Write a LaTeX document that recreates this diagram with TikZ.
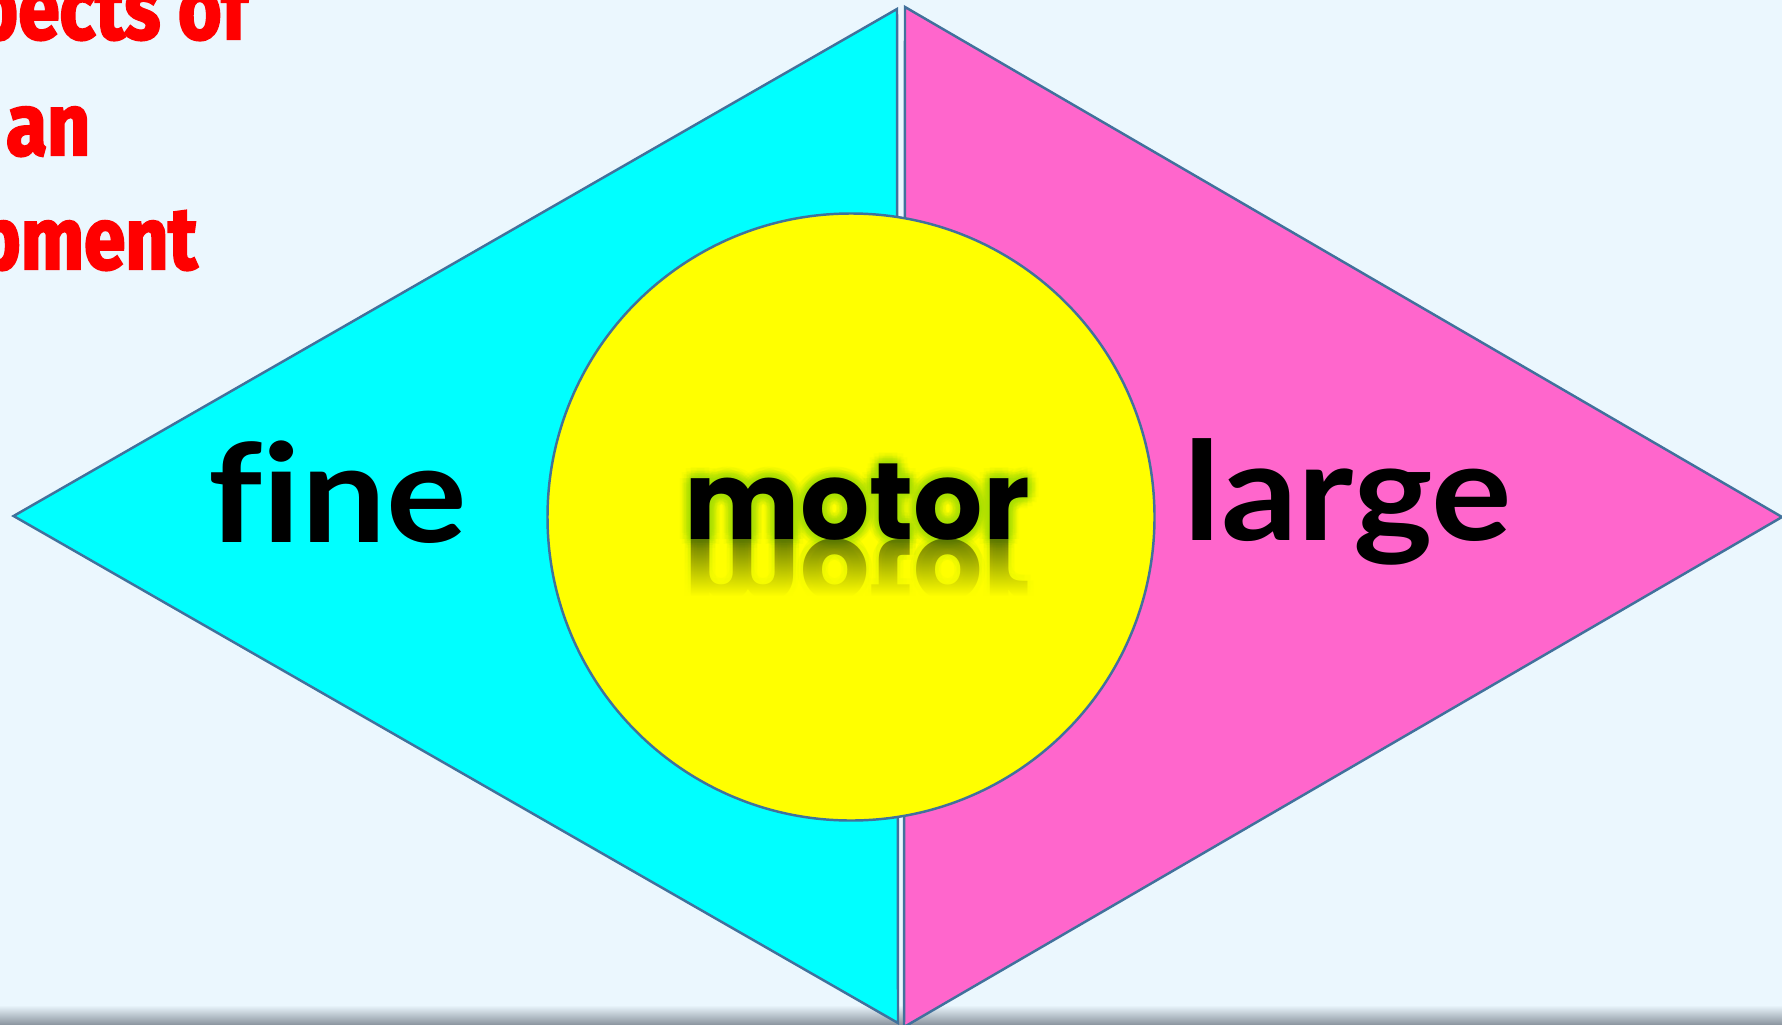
\documentclass[tikz,border=0pt]{standalone}
\usepackage{fontspec}
\usepackage{graphicx}
\usepackage{tikz}
\usetikzlibrary{calc,fadings}
\newfontfamily\sidefont{Lato}[Ligatures=NoCommon,FakeStretch=1.1]
\newfontfamily\motorfont{Poppins}
\newfontfamily\titlefont{Fira Sans}[FakeStretch=0.85,FakeBold=2.5]
\definecolor{mdbg}{HTML}{EBF7FE}
\definecolor{mdcyan}{HTML}{00FFFF}
\definecolor{mdpink}{HTML}{FF66CC}
\definecolor{mdyellow}{HTML}{FFFF00}
\definecolor{mdedge}{HTML}{41719C}
\definecolor{mdglow}{HTML}{A8E000}
\definecolor{mdband}{HTML}{8E98A2}
\definecolor{mdred}{HTML}{FF0000}
\tikzfading[name=fade down, top color=transparent!100, bottom color=transparent!0]

\begin{document}
\begin{tikzpicture}[
  x=0.01cm, y=-0.01cm,
  side/.style={draw=mdedge, line width=0.7pt, line join=miter},
  sideword/.style={inner sep=0pt, anchor=base west, text=black,
                   font=\sidefont\bfseries\fontsize{39}{39}\selectfont},
  motorword/.style={inner sep=0pt, anchor=base west, text=black,
                    font=\motorfont\bfseries\fontsize{31}{31}\selectfont},
  titleline/.style={inner sep=0pt, anchor=base east, text=mdred,
                    font=\titlefont\bfseries\fontsize{25}{25}\selectfont}
]
\useasboundingbox (0,0) rectangle (1782,1024);
\clip (0,0) rectangle (1782,1024);
\fill[mdbg] (0,0) rectangle (1782,1024);
\shade[top color=mdbg, bottom color=mdband] (0,1005) rectangle (1782,1024);

% the two halves and the circle
\filldraw[side, fill=mdcyan] (13.6,516) -- (897,9) -- (898,1023) -- cycle;
\filldraw[side, fill=mdpink] (905,7) -- (1782,517) -- (904,1027) -- cycle;
\filldraw[side, fill=mdyellow] (851,517) circle[radius=303.5];

\node[sideword] (fine) at (208,542) {fine};
\node[sideword] (large) at (1183,540) {large};

% motor with glow and reflection
\coordinate (motorpos) at (684,539);
\foreach \r/\o in {11/0.08, 8/0.12, 5/0.16, 2/0.2}
  \foreach \a in {0,30,...,330}
    \node[motorword, text=mdglow, opacity=\o] (glow\r-\a) at ($(motorpos)+(\a:\r)$) {motor};
\foreach \a in {0,60,...,300}
  \node[motorword, text=mdglow, opacity=0.15] (mglow\a) at ($(motorpos)+(\a:6)$) {\scalebox{1}[-1]{motor}};
\node[motorword, opacity=0.45] (mirror) at (motorpos) {\scalebox{1}[-1]{motor}};
\fill[mdyellow, path fading=fade down] (660,541) rectangle (1045,596);
\fill[mdyellow] (660,596) rectangle (1045,640);
\node[motorword] (motor) at (motorpos) {motor};

\node[titleline] (title1) at (249,39) {pects of};
\node[titleline] (title2) at (91,155) {an};
\node[titleline] (title3) at (198,269) {pment};
\end{tikzpicture}
\end{document}
